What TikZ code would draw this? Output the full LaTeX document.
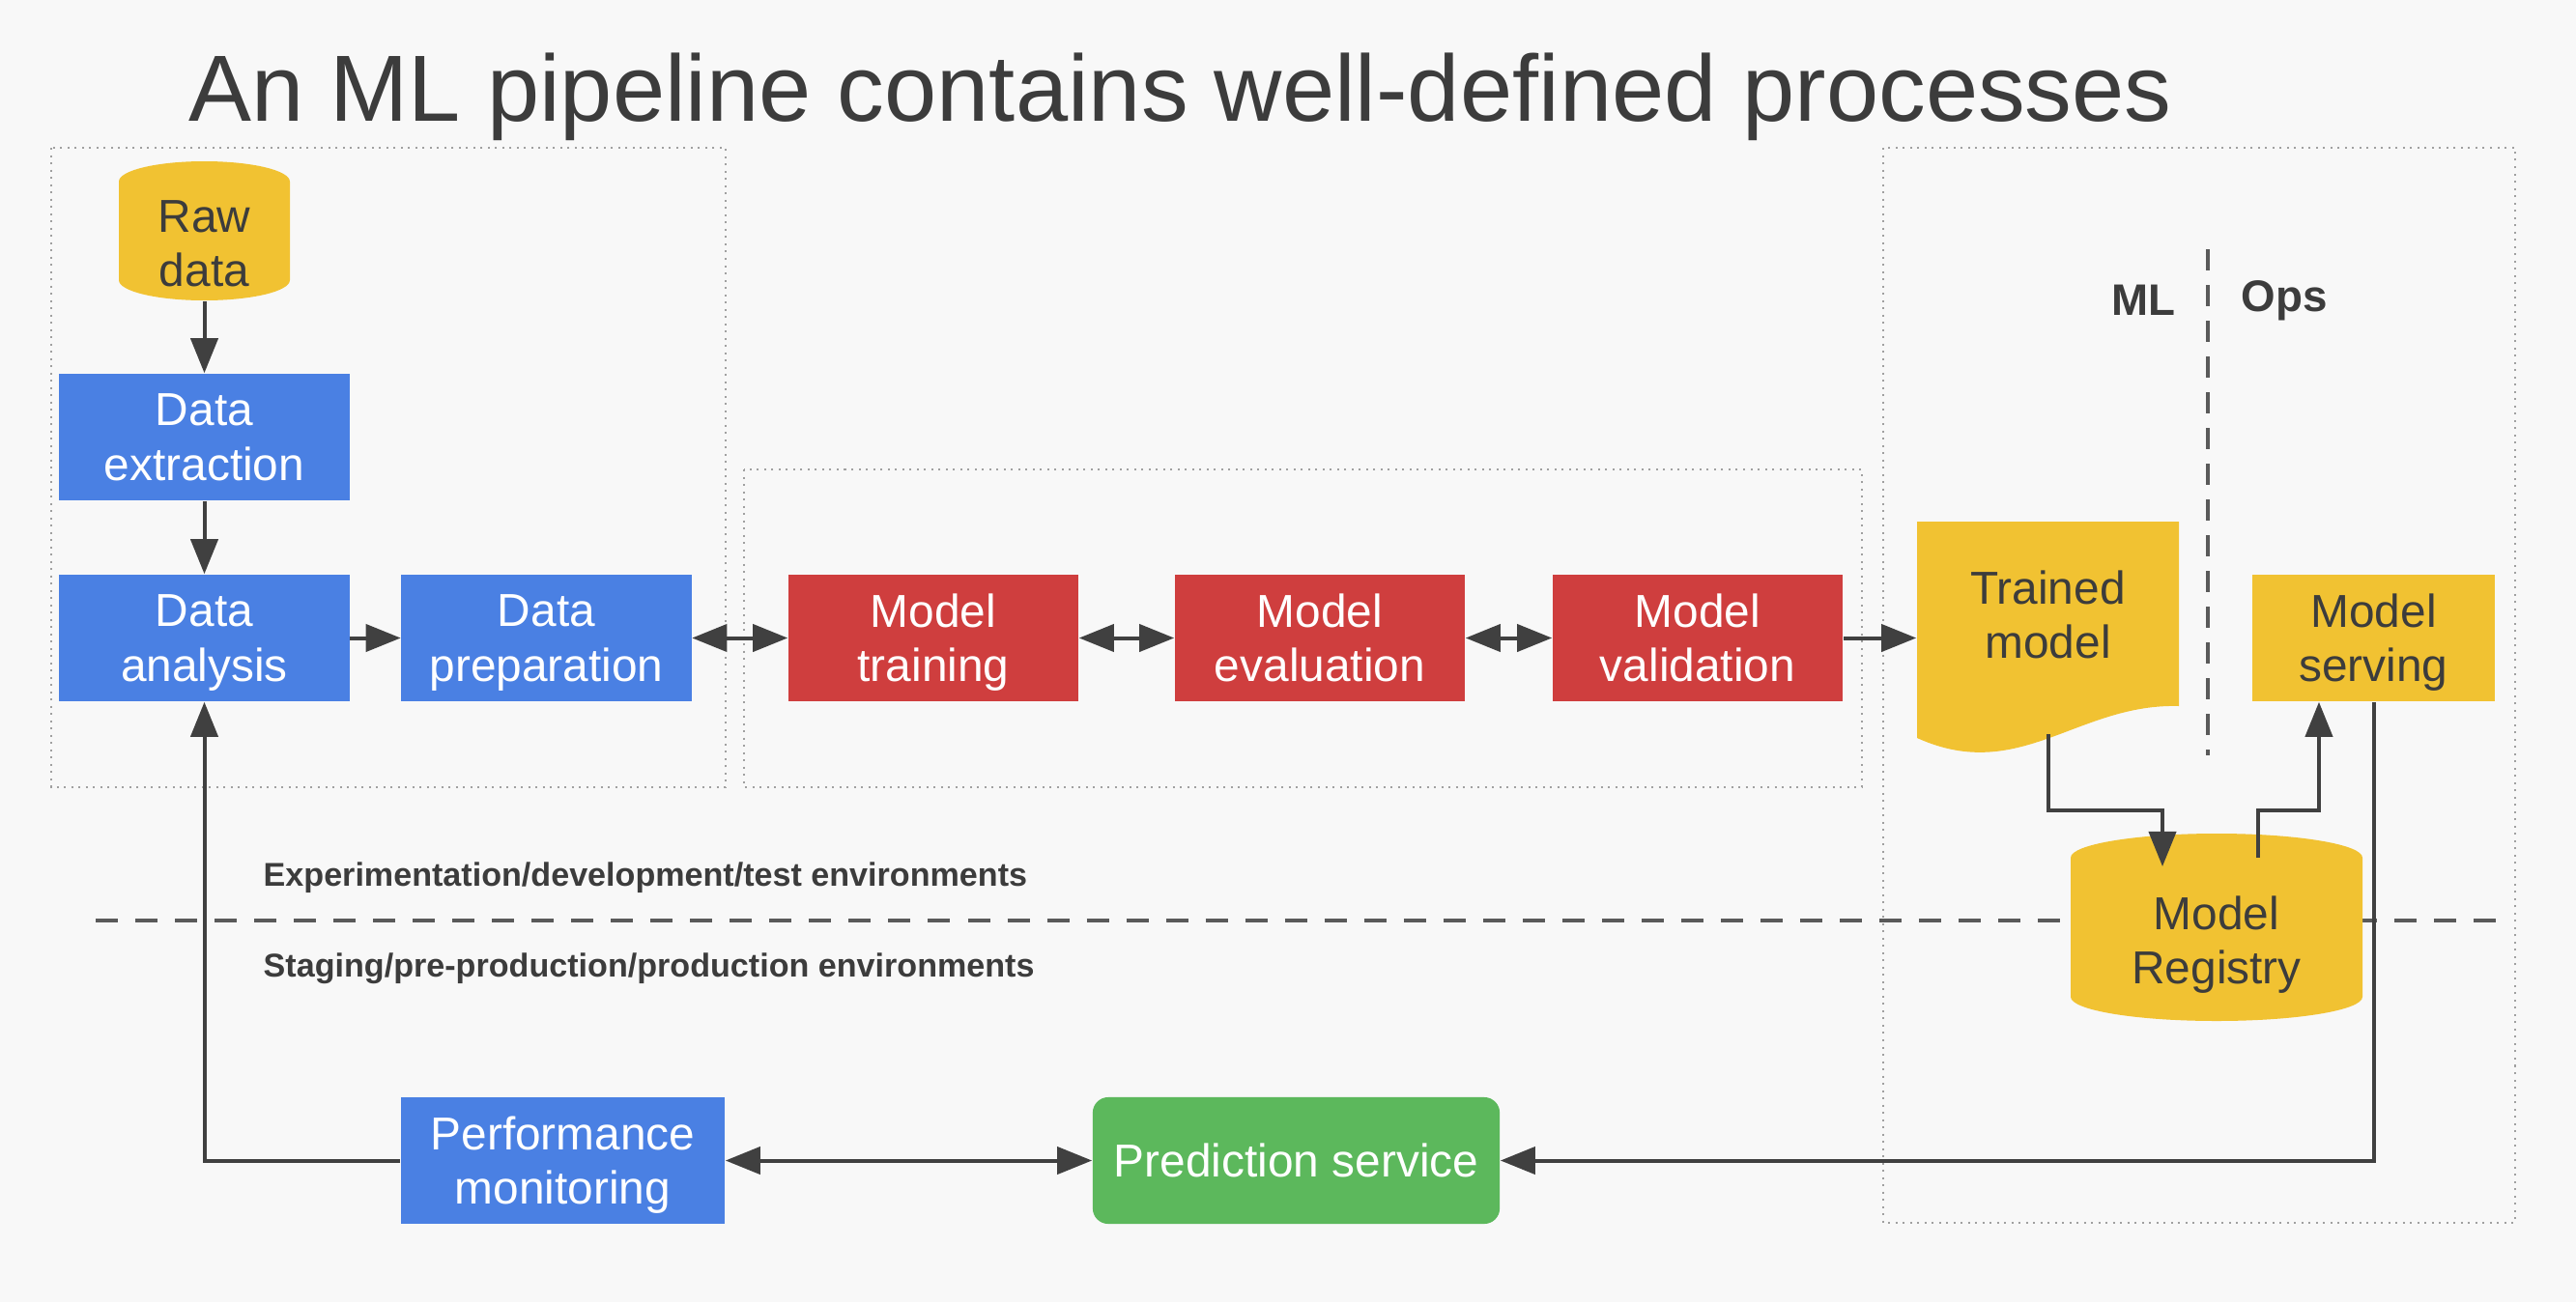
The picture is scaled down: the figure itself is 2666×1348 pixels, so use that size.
\documentclass[tikz,border=0pt]{standalone}
\usepackage{fontspec}
\setmainfont{Liberation Sans}
\usetikzlibrary{arrows.meta}

\definecolor{pagebg}{HTML}{F8F8F8}
\definecolor{gblue}{HTML}{4A80E3}
\definecolor{gred}{HTML}{CF3E3E}
\definecolor{gyellow}{HTML}{F1C232}
\definecolor{ggreen}{HTML}{5CB85C}
\definecolor{linec}{HTML}{404040}
\definecolor{sepc}{HTML}{5A5A5A}
\definecolor{framec}{HTML}{A0A0A0}
\definecolor{darktext}{HTML}{3C3C3C}

\newcommand{\boxfont}{\fontsize{13.6}{16}\selectfont}

% filled drum (cylinder) between x1,y1 and x2,y2 with end-cap radius ry
\newcommand{\drumfill}[6]{%
  \fill[#6] (#1,{#2+#5})
    .. controls (#1,{#2+0.448*#5}) and ({(#1+#3)/2-0.5523*(#3-#1)/2},#2) .. ({(#1+#3)/2},#2)
    .. controls ({(#1+#3)/2+0.5523*(#3-#1)/2},#2) and (#3,{#2+0.448*#5}) .. (#3,{#2+#5})
    -- (#3,{#4-#5})
    .. controls (#3,{#4-0.448*#5}) and ({(#1+#3)/2+0.5523*(#3-#1)/2},#4) .. ({(#1+#3)/2},#4)
    .. controls ({(#1+#3)/2-0.5523*(#3-#1)/2},#4) and (#1,{#4-0.448*#5}) .. (#1,{#4-#5})
    -- cycle;}

\begin{document}
\begin{tikzpicture}[x=0.01cm, y=-0.01cm,
  box/.style={rectangle, inner sep=0pt, minimum width=3cm, minimum height=1.31cm,
    align=center, text=white, font=\boxfont, text depth=0pt},
  bluebox/.style={box, fill=gblue},
  redbox/.style={box, fill=gred},
  yellowbox/.style={box, fill=gyellow, text=darktext},
  greenbox/.style={box, fill=ggreen, rounded corners=0.16cm},
  outline/.style={rectangle, inner sep=0pt},
  ylabel/.style={inner sep=0pt, align=center, text=darktext, font=\boxfont, text depth=0pt},
  envlabel/.style={inner sep=0pt, anchor=west, text=darktext,
    font=\fontsize{9.7}{11}\selectfont\bfseries},
  sidelabel/.style={inner sep=0pt, text=darktext,
    font=\fontsize{13}{15}\selectfont\bfseries},
  frame/.style={draw=framec, line width=0.022cm, dash pattern=on 0.02cm off 0.055cm},
  envsep/.style={draw=sepc, line width=0.04cm, dash pattern=on 0.23cm off 0.18cm},
  arr/.style={draw=linec, line width=0.04cm, -{Triangle[length=0.36cm,width=0.28cm]}},
  darr/.style={draw=linec, line width=0.04cm,
    {Triangle[length=0.36cm,width=0.28cm]}-{Triangle[length=0.36cm,width=0.28cm]}}
]
% page
\fill[pagebg] (0,0) rectangle (2666,1348);
\useasboundingbox (0,0) rectangle (2666,1348);

% title
\node[inner sep=0pt, anchor=base west, text=darktext,
      font=\fontsize{27.7}{33}\selectfont] (title) at (195,125)
      {An ML pipeline contains well-defined processes};

% environment frames
\draw[frame] (53,153) rectangle (751,815);
\draw[frame] (770,486) rectangle (1927,815);
\draw[frame] (1949,153) rectangle (2603,1266);

% environment separator and labels
\draw[envsep] (99,953) -- (2584,953);
\node[envlabel] (devenv) at (272,909) {Experimentation/development/test environments};
\node[envlabel] (prodenv) at (272,1003) {Staging/pre-production/production environments};

% ML | Ops split
\draw[envsep, dash pattern=on 0.22cm off 0.15cm] (2285,258) -- (2285,782);
\node[sidelabel] (mllbl) at (2218,311) {ML};
\node[sidelabel] (opslbl) at (2364,311) {Ops};

% raw data store
\drumfill{123}{167}{300}{311}{21}{gyellow}
\node[outline, minimum width=1.77cm, minimum height=1.44cm] (raw) at (211.5,239) {};
\node[ylabel] (rawlbl) at (211.5,252) {Raw\\data};

% data steps
\node[bluebox] (dext)  at (211.5,452.5) {Data\\extraction};
\node[bluebox] (dana)  at (211.5,660.5) {Data\\analysis};
\node[bluebox] (dprep) at (565.5,660.5) {Data\\preparation};

% model steps
\node[redbox] (mtrain) at (966,660.5)  {Model\\training};
\node[redbox] (meval)  at (1366,660.5) {Model\\evaluation};
\node[redbox] (mval)   at (1757,660.5) {Model\\validation};

% trained model document
\fill[gyellow] (1984,540) -- (2255,540) -- (2255,731)
  .. controls (2150,728) and (2090,812) .. (1984,764) -- cycle;
\node[outline, minimum width=2.71cm, minimum height=2.27cm] (tm) at (2119.5,653.5) {};
\node[ylabel] (tmlbl) at (2119.5,636) {Trained\\model};

% model serving
\node[yellowbox, minimum width=2.51cm] (serv) at (2456.5,660.5) {Model\\serving};

% model registry store
\drumfill{2143}{863}{2445}{1057}{25}{gyellow}
\node[outline, minimum width=3.02cm, minimum height=1.94cm] (reg) at (2294,960) {};
\node[ylabel] (reglbl) at (2294,973) {Model\\Registry};

% production side
\node[bluebox, minimum width=3.35cm] (perf) at (582.5,1201.5) {Performance\\monitoring};
\node[greenbox, minimum width=4.21cm] (pred) at (1341.5,1201.5) {Prediction service};

% connectors
\coordinate (tmout) at (2120,760);
\coordinate (regin) at (2238,897);
\coordinate (regout) at (2337,888);

\draw[arr] (raw.south) -- (dext.north);
\draw[arr] (dext) -- (dana);
\draw[arr] (dana) -- (dprep);
\draw[darr] (dprep) -- (mtrain);
\draw[darr] (mtrain) -- (meval);
\draw[darr] (meval) -- (mval);
\draw[arr] (mval.east) -- (mval.east -| tm.west);
\draw[arr] (tmout) -- ++(0,79) -| (regin);
\draw[arr] (regout) -- ++(0,-49) -| ([xshift=-0.565cm]serv.south);
\draw[arr] (serv.south) |- (pred.east);
\draw[darr] (perf.east) -- (pred.west);
\draw[arr] (perf.west) -| (dana.south);
\end{tikzpicture}
\end{document}
